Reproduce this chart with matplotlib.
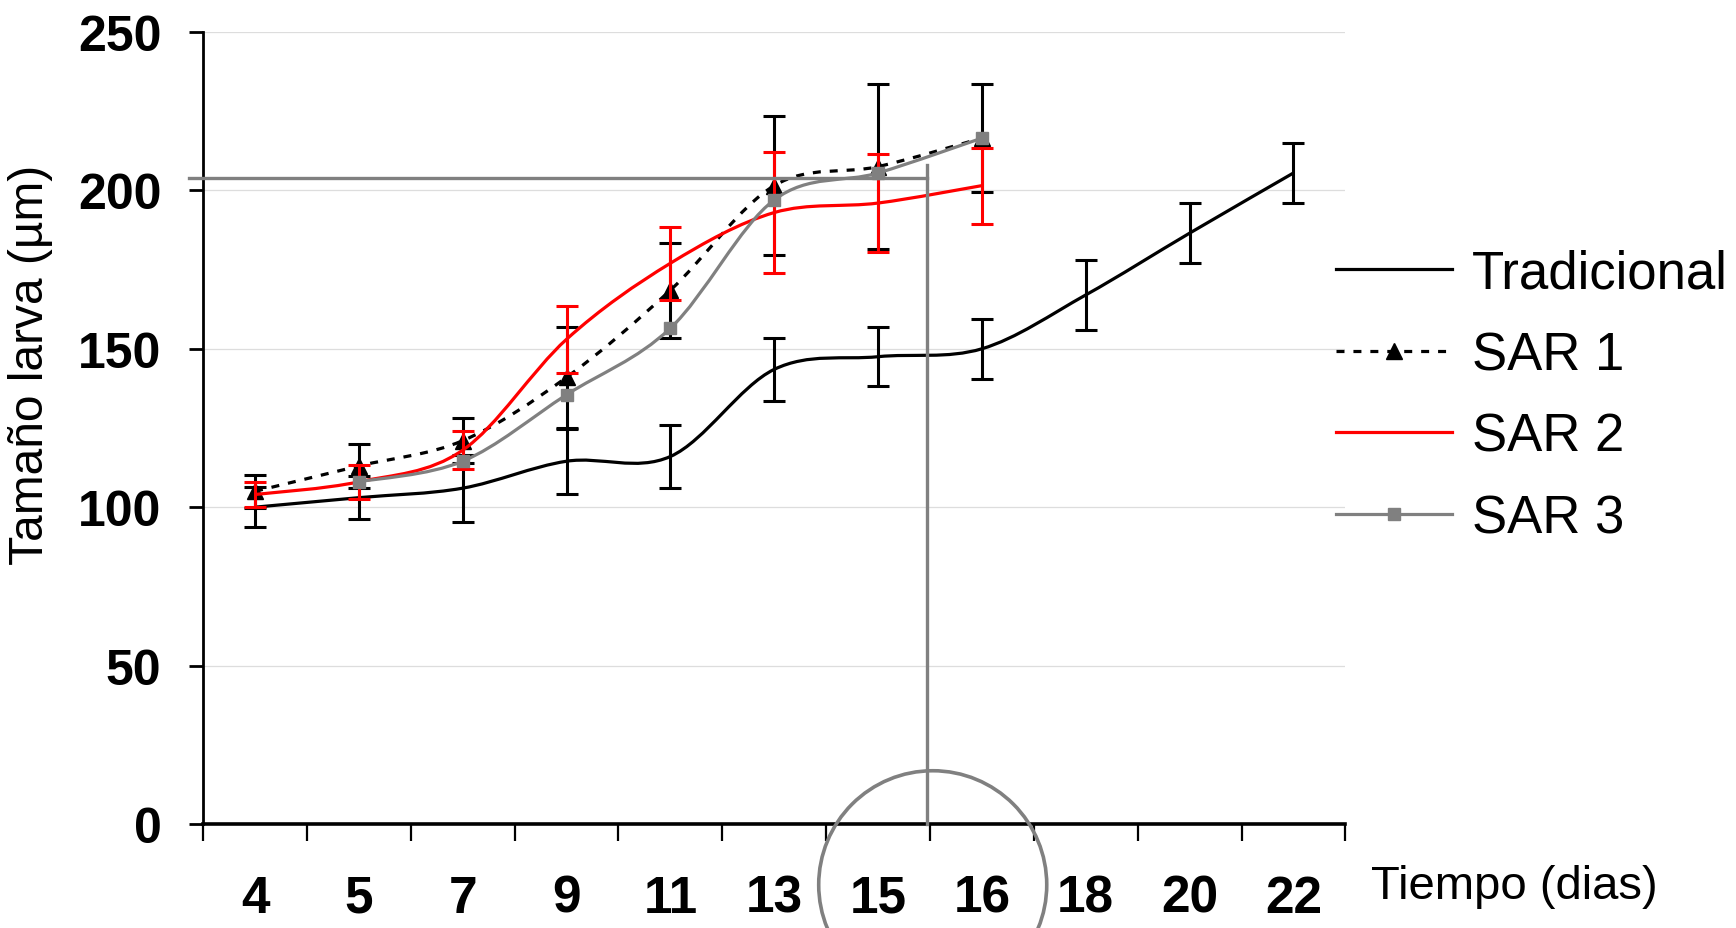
import numpy as np
import matplotlib
matplotlib.use('Agg')
import matplotlib.pyplot as plt
from matplotlib import font_manager as fm
from matplotlib.path import Path
from matplotlib.patches import PathPatch, Ellipse
from matplotlib.lines import Line2D

# dias de cultivo (eje categorico)
dias = ['4', '5', '7', '9', '11', '13', '15', '16', '18', '20', '22']

# tamaño medio de larva (µm) y desviacion
tradicional = [100, 103, 106, 114.5, 116, 143.5, 147.5, 150, 167, 186.5, 205.5]
tradicional_err = [6.3, 6.7, 10.6, 10.3, 10, 10, 9.3, 9.5, 11, 9.4, 9.6]

sar1 = [105, 113, 121, 141, 168.5, 201.5, 207.5, 216.5]
sar1_err = [5.3, 7, 7, 16, 15, 22, 26, 17]

sar2 = [104, 108, 118, 153, 177, 193, 196, 201.5]
sar2_err = [4, 5.4, 6, 10.5, 11.5, 19, 15.5, 12]

# SAR 3 sin medida el dia 4
sar3 = [np.nan, 108, 114.5, 135.5, 156.5, 197, 205.5, 216.5]

# linea de referencia: 204 µm alcanzados entre el dia 15 y 16
talla_ref = 204
pos_ref = 6.47


def narrow_font():
    for name in ['Liberation Sans Narrow', 'Arial Narrow']:
        try:
            fm.findfont(fm.FontProperties(family=name), fallback_to_default=False)
            return [name, 'DejaVu Sans']
        except ValueError:
            pass
    return ['Liberation Sans', 'DejaVu Sans']


def curva_suave(x, y):
    # curva bezier suavizada que pasa por todos los puntos
    P = np.column_stack([x, y])
    n = len(P)
    verts = [tuple(P[0])]
    codes = [Path.MOVETO]
    for i in range(n - 1):
        p0 = P[i - 1] if i > 0 else P[i]
        p3 = P[i + 2] if i + 2 < n else P[i + 1]
        c1 = P[i] + (P[i + 1] - p0) / 6.0
        c2 = P[i + 1] - (p3 - P[i]) / 6.0
        verts += [tuple(c1), tuple(c2), tuple(P[i + 1])]
        codes += [Path.CURVE4] * 3
    return Path(verts, codes)


plt.rcParams['font.family'] = ['Liberation Sans', 'DejaVu Sans']
narrow = narrow_font()

fig = plt.figure(figsize=(17.36, 9.29), dpi=100)
ax = fig.add_axes([0.117, 0.112, 0.658, 0.8525])

x_all = np.arange(len(dias))

series = [
    (tradicional, tradicional_err, 'black', '-', None, 'black'),
    (sar1, sar1_err, 'black', (0, (2.5, 2.8)), '^', 'black'),
    (sar2, sar2_err, 'red', '-', None, 'red'),
    (sar3, None, '#808080', '-', 's', None),
]

for i, (vals, err, color, ls, mk, ecolor) in enumerate(series):
    y = np.array(vals, dtype=float)
    x = x_all[:len(y)]
    ok = ~np.isnan(y)
    if err is not None:
        ax.errorbar(x[ok], y[ok], yerr=np.array(err)[ok], fmt='none', ecolor=ecolor,
                    elinewidth=2.2, capsize=8, capthick=2.2, zorder=3 + i)
    ax.add_patch(PathPatch(curva_suave(x[ok], y[ok]), fill=False, edgecolor=color,
                           lw=2.3, linestyle=ls, zorder=3 + i))
    if mk is not None:
        ax.plot(x[ok], y[ok], linestyle='none', marker=mk, color=color,
                markersize=11 if mk == '^' else 9, zorder=3.5 + i)

# lineas de referencia y circulo sobre el eje
ax.plot([-0.64, pos_ref], [talla_ref, talla_ref], color='#808080', lw=2.4,
        clip_on=False, zorder=8)
ax.plot([pos_ref, pos_ref], [0, talla_ref + 4], color='#808080', lw=2.4,
        clip_on=False, zorder=8)
ax.add_patch(Ellipse((6.526, -19.2), width=2.196, height=72, fill=False,
                     edgecolor='#808080', lw=2.6, clip_on=False, zorder=8))

ax.set_xlim(-0.5, len(dias) - 0.5)
ax.set_ylim(0, 250)

ax.set_xticks(np.arange(-0.5, len(dias)))
ax.set_xticklabels([])
ax.set_xticks(x_all, minor=True)
ax.set_xticklabels(dias, minor=True, fontfamily=narrow, fontweight='bold', fontsize=37)
ax.tick_params(axis='x', which='major', length=12, width=1.6, direction='out')
ax.tick_params(axis='x', which='minor', length=0, pad=36)

ax.set_yticks(np.arange(0, 251, 50))
ax.tick_params(axis='y', length=10, width=2, direction='out', pad=20)
for t in ax.get_yticklabels():
    t.set_fontweight('bold')
    t.set_fontsize(36)

ax.yaxis.grid(True, color='#dddddd', lw=0.9)
ax.set_axisbelow(True)
for s in ['top', 'right']:
    ax.spines[s].set_visible(False)
ax.spines['left'].set_linewidth(2)
ax.spines['bottom'].set_linewidth(2.6)

ax.set_ylabel('Tamaño larva (µm)', fontsize=34.5)
ax.yaxis.set_label_coords(-0.131, 0.581)
fig.text(0.79, 0.032, 'Tiempo (dias)', fontfamily=narrow, fontsize=34,
         ha='left', va='baseline')

handles = [
    Line2D([], [], color='black', lw=2.3),
    Line2D([], [], color='black', lw=2.3, linestyle=(0, (2.5, 2.8)), marker='^', markersize=11),
    Line2D([], [], color='red', lw=2.3),
    Line2D([], [], color='#808080', lw=2.3, marker='s', markersize=9),
]
fig.legend(handles, ['Tradicional', 'SAR 1', 'SAR 2', 'SAR 3'], loc='upper left',
           bbox_to_anchor=(0.7696, 0.7314), frameon=False, fontsize=38, numpoints=1,
           handlelength=2.2, handletextpad=0.38, labelspacing=0.6,
           borderpad=0, borderaxespad=0)

fig.savefig('out.png', dpi=100)
